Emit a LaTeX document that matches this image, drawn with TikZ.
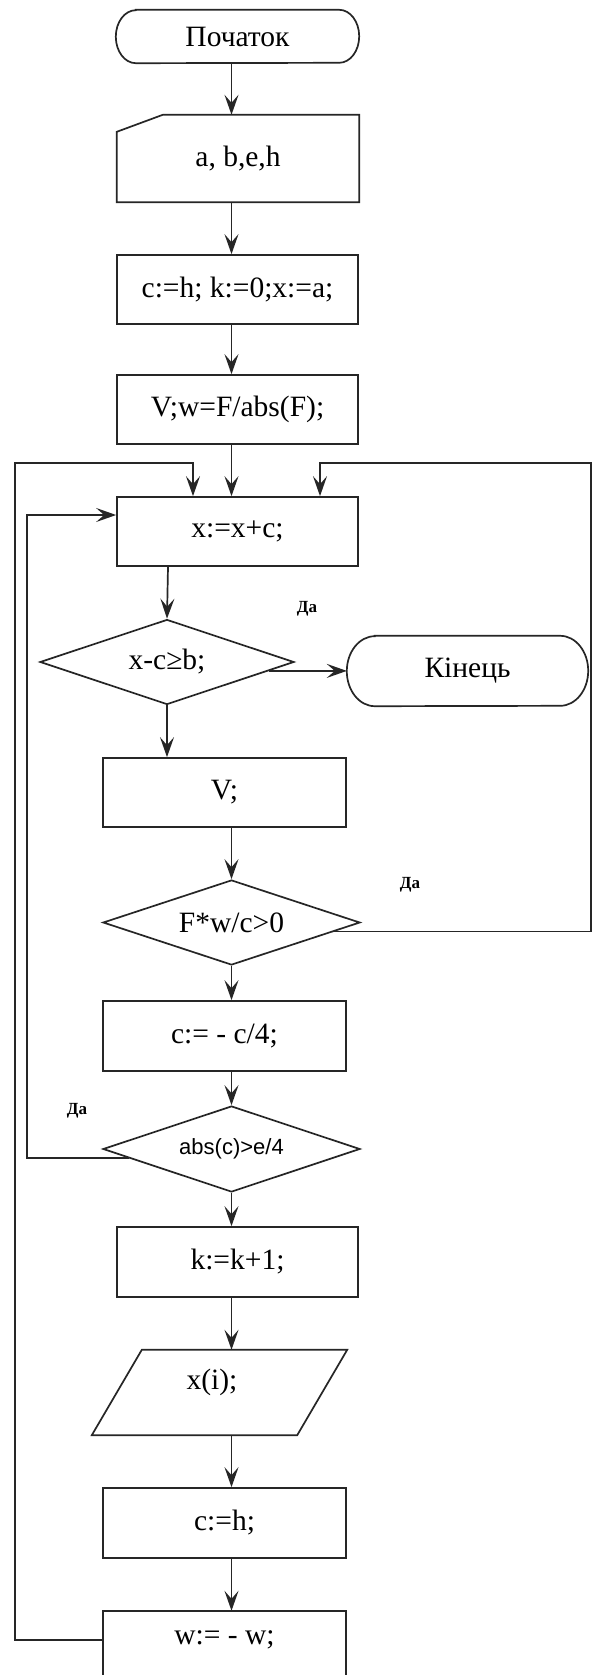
\documentclass[tikz,border=0pt]{standalone}
\usepackage{fontspec}
\setmainfont{Liberation Serif}
\newfontfamily\arialf{Liberation Sans}
\usetikzlibrary{shapes.geometric,arrows.meta}
\begin{document}
\begin{tikzpicture}[x=1pt,y=-1pt,
  every node/.style={font=\fontsize{29.5}{31}\selectfont, inner sep=0pt},
  ln/.style={line width=1.7pt, draw=black!85},
  arr/.style={ln, -{Stealth[length=20pt,width=14pt,inset=8pt]}},
  blk/.style={rectangle, draw=black!85, line width=1.7pt, minimum height=69pt},
  dia/.style={diamond, aspect=3, draw=black!85, line width=1.7pt},
  shp/.style={rectangle, draw=none},
  yes/.style={font=\bfseries\fontsize{17}{19}\selectfont}
]
\fill[white] (0,0) rectangle (592,1675);
\useasboundingbox (0,0) rectangle (592,1675);

% nodes
\node[shp, minimum width=243pt, minimum height=53pt] (start) at (237.5,36.5) {Початок};
\node[shp, minimum width=242pt, minimum height=87pt] (inp) at (238,158.5) {a, b,e,h};
\node[blk, minimum width=241pt] (init) at (237.5,289.5) {c:=h; k:=0;x:=a;};
\node[blk, minimum width=241pt] (vw) at (237.5,409.5) {V;w=F/abs(F);};
\node[blk, minimum width=241pt] (xinc) at (237.5,531.5) {x:=x+c;};
\node[dia, minimum width=254pt, minimum height=85pt] (d1) at (167,662) {x-c≥b;};
\node[shp, minimum width=241pt, minimum height=70pt] (fin) at (467.5,671) {Кінець};
\node[blk, minimum width=243pt] (vbox) at (224.5,792.5) {V;};
\node[dia, minimum width=257pt, minimum height=85pt] (d2) at (231.5,922.5) {F*w/c>0};
\node[blk, minimum width=243pt, minimum height=70pt] (cc) at (224.5,1036) {c:= - c/4;};
\node[dia, minimum width=257pt, minimum height=86pt, font=\arialf\fontsize{22}{24}\selectfont] (d3) at (231.5,1149) {abs(c)>e/4};
\node[blk, minimum width=241pt, minimum height=70pt] (kk) at (237.5,1262) {k:=k+1;};
\node[shp, minimum width=255pt, minimum height=85pt] (out) at (219.5,1392.5) {};
\node (outt) at (212,1382) {x(i);};
\node[blk, minimum width=243pt, minimum height=70pt] (ch) at (224.5,1523) {c:=h;};
\node[shp, minimum width=243pt, minimum height=58pt] (ww) at (224.5,1640) {w:= - w;};

% labels
\node[yes] (y1) at (307,609) {Да};
\node[yes] (y2) at (410,885) {Да};
\node[yes] (y3) at (77,1111) {Да};

% custom outlines
\draw[ln] ([xshift=20pt]start.north west) -- ([xshift=-20pt]start.north east)
  arc[start angle=90,end angle=-90,x radius=20pt,y radius=26.5pt]
  -- ([xshift=20pt]start.south west)
  arc[start angle=270,end angle=90,x radius=20pt,y radius=26.5pt] -- cycle;
\draw[ln] ([xshift=28pt]fin.north west) -- ([xshift=-28pt]fin.north east)
  arc[start angle=90,end angle=-90,x radius=28pt,y radius=35pt]
  -- ([xshift=28pt]fin.south west)
  arc[start angle=270,end angle=90,x radius=28pt,y radius=35pt] -- cycle;
\draw[ln] (inp.south west) -- (inp.south east) -- (inp.north east)
  -- ([xshift=46pt]inp.north west) -- ([yshift=-17pt]inp.north west) -- cycle;
\draw[ln] ([xshift=50pt]out.north west) -- (out.north east)
  -- ([xshift=-50pt]out.south east) -- (out.south west) -- cycle;
\draw[ln] ([yshift=-6pt]ww.south west) -- (ww.north west) -- (ww.north east) -- ([yshift=-6pt]ww.south east);

% connectors
\coordinate (col) at (231.5,0);
\coordinate (col2) at (168,0);
\draw[arr] (start.south -| col) -- (inp.north -| col);
\draw[arr] (inp.south -| col) -- (init.north -| col);
\draw[arr] (init.south -| col) -- (vw.north -| col);
\draw[arr] (vw.south -| col) -- (xinc.north -| col);
\draw[arr] (xinc.south -| col2) -- (d1.north);
\draw[arr] (d1.-5) -- (d1.-5 -| fin.west);
\draw[arr] (d1.south) -- (vbox.north -| d1.south);
\draw[arr] (vbox.south -| col) -- (d2.north);
\draw[arr] (d2.south) -- (cc.north -| col);
\draw[arr] (cc.south -| col) -- (d3.north);
\draw[arr] (d3.south) -- (kk.north -| col);
\draw[arr] (kk.south -| col) -- (out.north -| col);
\draw[arr] (out.south -| col) -- (ch.north -| col);
\draw[arr] (ch.south -| col) -- (ww.north -| col);

% loops
\coordinate (lo) at (15,463);
\coordinate (a1) at (193,463);
\draw[arr] (ww.west) -- (ww.west -| lo) -- (lo) -- (a1) -- (a1 |- xinc.north);
\coordinate (ro) at (591,463);
\coordinate (a3) at (320,463);
\draw[arr] (d2.-5.5) -- (d2.-5.5 -| ro) -- (ro) -- (a3) -- (a3 |- xinc.north);
\coordinate (li) at (27,515);
\draw[arr] (d3.185) -- (d3.185 -| li) -- (li) -- (li -| xinc.west);
\end{tikzpicture}
\end{document}
